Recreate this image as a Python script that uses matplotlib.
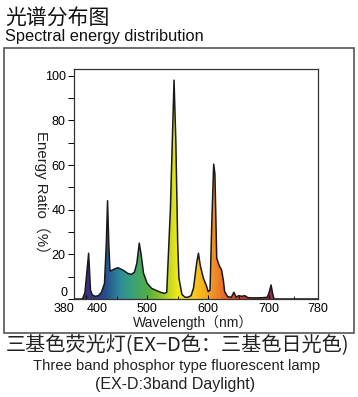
import numpy as np
import matplotlib
matplotlib.use("Agg")
import matplotlib.pyplot as plt
from matplotlib.colors import LinearSegmentedColormap
from matplotlib.patches import Rectangle

plt.rcParams['font.family'] = ['Liberation Sans', 'Noto Sans CJK SC', 'DejaVu Sans']

# ---- data ----
wavelength = [380, 394, 398, 404, 407, 410, 415, 420, 425, 430, 433, 435, 437, 439,
              447, 452, 460, 468, 474, 479, 483, 487, 490, 494, 500, 507, 515, 522,
              528, 532, 538, 544, 547, 550, 552, 557, 562, 567, 572, 576, 581, 584,
              587, 592, 597, 600, 603, 606, 609, 611, 614, 618, 622, 625, 627, 632,
              638, 642, 646, 650, 655, 660, 665, 672, 680, 690, 697, 700, 703, 706,
              708, 780]
energy = [0, 0, 3, 20.5, 4, 1.8, 1.2, 1.5, 3, 7, 25, 44, 25, 12.5,
          13.5, 14, 13, 11.5, 11, 12, 16, 25, 20, 11.5, 7, 4.8, 3.8, 3,
          2.5, 3, 40, 98, 70, 25, 9.4, 2, 0.8, 0.8, 1.5, 5, 16, 20.5,
          15, 9.4, 6, 3.3, 4, 35, 60.4, 56, 18.2, 15, 13, 8, 3.3, 1,
          0.8, 3, 0.8, 1.5, 1.2, 1.5, 0.6, 0.5, 0.5, 0.6, 0.8, 3, 6.3, 2,
          0, 0]

x_ticks = [380, 400, 500, 600, 700, 780]
y_ticks = [0, 20, 40, 60, 80, 100]

title_cn = "光谱分布图"
title_en = "Spectral energy distribution"
caption_cn = "三基色荧光灯(EX−D色：三基色日光色)"
caption_en1 = "Three band phosphor type fluorescent lamp"
caption_en2 = "(EX-D:3band Daylight)"

# spectral colour stops (wavelength, colour)
color_stops = [(380, '#4a2a6e'), (400, '#3b2f80'), (430, '#254c8c'), (455, '#2f8a9a'),
               (475, '#3aa07a'), (500, '#4fae45'), (525, '#9cc92a'), (550, '#f2ea1a'),
               (580, '#f8c51c'), (605, '#f39a25'), (625, '#ec6a2a'), (645, '#d8462e'),
               (670, '#b8303a'), (700, '#952a45'), (780, '#7a1f35')]

W, H = 358, 397
fig = plt.figure(figsize=(W / 100, H / 100), dpi=100)

# outer frame
fig.add_artist(Rectangle((4 / W, 1 - 333 / H), (354 - 4) / W, (333 - 48) / H,
                         transform=fig.transFigure, fill=False, edgecolor='#555555', lw=1.2))

ax = fig.add_axes([74 / W, 1 - 299 / H, 244 / W, (299 - 69) / H])
ax.set_xlim(380, 780)
ax.set_ylim(0, 103)

wl = np.array(wavelength, float)
en = np.array(energy, float)

lo, hi = color_stops[0][0], color_stops[-1][0]
cmap = LinearSegmentedColormap.from_list(
    'spec', [((w - lo) / (hi - lo), c) for w, c in color_stops])
grad = np.linspace(0, 1, 512).reshape(1, -1)
poly = ax.fill_between(wl, 0, en, color='none', lw=0)
img = ax.imshow(grad, cmap=cmap, aspect='auto', extent=[lo, hi, 0, 103],
                origin='lower', zorder=1)
path = poly.get_paths()[0]
img.set_clip_path(path, transform=ax.transData)
ax.plot(wl, en, color='#1a1a1a', lw=1.1, zorder=3)

ax.set_xticks(x_ticks)
ax.set_xticklabels([str(v) for v in x_ticks], fontsize=9)
xl = ax.get_xticklabels()
xl[0].set_ha('right')
xl[1].set_ha('left')
ax.set_xticks([450, 550, 650, 740], minor=True)
ax.tick_params(axis='x', direction='in', length=3, pad=3, width=0.7)
ax.tick_params(axis='x', which='minor', direction='in', length=2, width=0.6)
ax.set_yticks(y_ticks)
ax.set_yticklabels([''] + [str(v) for v in y_ticks[1:]], fontsize=9)
# the "0" label sits slightly above the axis corner, as in the reference
ax.annotate(str(y_ticks[0]), xy=(0, 0), xycoords='axes fraction', xytext=(-4.5, 4.5),
            textcoords='offset points', ha='right', va='center', fontsize=9)
ax.set_yticks(np.arange(10, 101, 20), minor=True)
ax.tick_params(axis='y', direction='out', length=4, pad=2, width=0.7)
ax.tick_params(axis='y', which='minor', direction='out', length=4, width=0.7)
for s in ax.spines.values():
    s.set_linewidth(0.9)
    s.set_color('#333333')

fig.text(41.5 / W, 1 - 196 / H, "Energy Ratio（%）", rotation=270, ha='center', va='center',
         fontsize=10.8, color='#222222')
fig.text(193 / W, 1 - 323 / H, "Wavelength（nm）", ha='center', va='center',
         fontsize=10, color='#222222')

fig.text(5 / W, 1 - 19 / H, title_cn, ha='left', va='center', fontsize=15,
         family=['Noto Sans CJK SC', 'DejaVu Sans'], color='#111111')
fig.text(5 / W, 1 - 37 / H, title_en, ha='left', va='center', fontsize=11.8, color='#111111')
fig.text(178 / W, 1 - 346 / H, caption_cn, ha='center', va='center', fontsize=14.5,
         family=['Noto Sans CJK SC', 'DejaVu Sans'], color='#222222')
fig.text(177 / W, 1 - 366 / H, caption_en1, ha='center', va='center', fontsize=10.6, color='#222222')
fig.text(175 / W, 1 - 384 / H, caption_en2, ha='center', va='center', fontsize=11.5, color='#222222')

fig.savefig('out.png', dpi=100)
